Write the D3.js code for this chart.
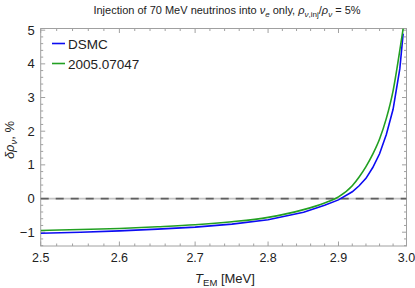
<!DOCTYPE html>
<html lang="en">
  <head>
    <meta charset="UTF-8" />
    <title>Injection of 70 MeV neutrinos</title>
    <script src="https://d3js.org/d3.v7.min.js"></script>
    <style>
      body {
        margin: 0;
        background: white;
      }
      svg text {
        font-family: "Liberation Sans", Arial, sans-serif;
        fill: #222;
      }
      .frame {
        fill: none;
        stroke: #a0a0a0;
        stroke-width: 1;
      }
      .tick {
        stroke: #a0a0a0;
        stroke-width: 1;
      }
    </style>
  </head>
  <body>
    <svg id="chart" width="415" height="288"></svg>
    <script>
      // T_EM values (MeV) sampled along the curves
      const tDsmc = [2.5, 2.55, 2.6, 2.65, 2.7, 2.75, 2.8, 2.85, 2.88, 2.9, 2.92, 2.93, 2.94, 2.95, 2.96, 2.97, 2.98, 2.99, 2.995];
      const dsmcValues = [-1.03, -1.0, -0.96, -0.91, -0.85, -0.76, -0.63, -0.41, -0.2, -0.04, 0.2, 0.38, 0.6, 0.92, 1.33, 1.9, 2.65, 3.85, 4.9];

      const tRef = [2.5, 2.55, 2.6, 2.65, 2.7, 2.75, 2.8, 2.85, 2.88, 2.9, 2.92, 2.93, 2.94, 2.95, 2.96, 2.97, 2.98, 2.99, 2.995];
      const refValues = [-0.95, -0.92, -0.89, -0.84, -0.78, -0.69, -0.56, -0.33, -0.13, 0.05, 0.38, 0.64, 0.95, 1.32, 1.77, 2.38, 3.2, 4.4, 5.05];

      const seriesNames = ["DSMC", "2005.07047"];
      const seriesColors = ["#0c0cf2", "#22a022"];

      const xTickLabels = [2.5, 2.6, 2.7, 2.8, 2.9, 3.0];
      const yTickLabels = [-1, 0, 1, 2, 3, 4, 5];

      (function () {
        const svg = d3.select("#chart");
        const left = 40.7, right = 406.5, top = 28.5, bottom = 246;

        // x axis is logarithmic
        const x = d3.scaleLog().domain([2.5, 3.0]).range([left, right]);
        const y = d3.scaleLinear().domain([-1.41, 5.05]).range([bottom, top]);

        svg.append("clipPath").attr("id", "clip")
          .append("rect").attr("x", left).attr("y", top)
          .attr("width", right - left).attr("height", bottom - top);

        // minor and major ticks on all four sides
        const xMinor = d3.range(2.5, 3.0001, 0.02);
        const yMinor = d3.range(-1.4, 5.0001, 0.2);
        const g = svg.append("g");

        xMinor.forEach((v) => {
          const major = xTickLabels.some((t) => Math.abs(t - v) < 1e-6);
          const len = major ? 4.5 : 2.5;
          g.append("line").attr("class", "tick")
            .attr("x1", x(v)).attr("x2", x(v)).attr("y1", bottom).attr("y2", bottom - len);
          g.append("line").attr("class", "tick")
            .attr("x1", x(v)).attr("x2", x(v)).attr("y1", top).attr("y2", top + len);
        });
        yMinor.forEach((v) => {
          const major = yTickLabels.some((t) => Math.abs(t - v) < 1e-6);
          const len = major ? 4.5 : 2.5;
          g.append("line").attr("class", "tick")
            .attr("x1", left).attr("x2", left + len).attr("y1", y(v)).attr("y2", y(v));
          g.append("line").attr("class", "tick")
            .attr("x1", right).attr("x2", right - len).attr("y1", y(v)).attr("y2", y(v));
        });

        svg.append("rect").attr("class", "frame")
          .attr("x", left).attr("y", top)
          .attr("width", right - left).attr("height", bottom - top);

        // tick labels
        svg.selectAll(".xlab").data(xTickLabels).enter().append("text")
          .attr("x", (d) => x(d)).attr("y", bottom + 16)
          .attr("text-anchor", "middle").attr("font-size", 12.5)
          .text((d) => d.toFixed(1));
        svg.selectAll(".ylab").data(yTickLabels).enter().append("text")
          .attr("x", left - 6).attr("y", (d) => y(d) + 4.5)
          .attr("text-anchor", "end").attr("font-size", 13)
          .text((d) => (d < 0 ? "\u2212" + Math.abs(d) : d));

        // zero reference line
        svg.append("line")
          .attr("x1", left).attr("x2", right).attr("y1", y(0)).attr("y2", y(0))
          .attr("stroke", "#c4c4c4").attr("stroke-width", 1.8);
        svg.append("line")
          .attr("x1", left).attr("x2", right).attr("y1", y(0)).attr("y2", y(0))
          .attr("stroke", "#606060").attr("stroke-width", 1.8)
          .attr("stroke-dasharray", "8,7");

        const line = d3.line().x((d) => x(d[0])).y((d) => y(d[1]));
        const curves = [d3.zip(tDsmc, dsmcValues), d3.zip(tRef, refValues)];
        curves.forEach((pts, i) => {
          svg.append("path")
            .attr("clip-path", "url(#clip)")
            .attr("d", line.curve(i === 0 ? d3.curveLinear : d3.curveMonotoneX)(pts))
            .attr("fill", "none")
            .attr("stroke", seriesColors[i])
            .attr("stroke-width", 1.6);
        });

        // legend
        seriesNames.forEach((name, i) => {
          const ly = 43.5 + i * 20;
          svg.append("line")
            .attr("x1", 52).attr("x2", 65).attr("y1", ly).attr("y2", ly)
            .attr("stroke", seriesColors[i]).attr("stroke-width", 1.6);
          svg.append("text")
            .attr("x", 68).attr("y", ly + 5)
            .attr("font-size", 13.5)
            .text(name);
        });

        // title
        const title = svg.append("text")
          .attr("x", 227).attr("y", 14).attr("text-anchor", "middle")
          .attr("font-size", 11);
        title.append("tspan").text("Injection of 70 MeV neutrinos into ");
        title.append("tspan").attr("font-style", "italic").text("\u03bd");
        title.append("tspan").attr("font-style", "italic").attr("font-size", 8).attr("dy", 2.5).text("e");
        title.append("tspan").attr("dy", -2.5).text(" only, ");
        title.append("tspan").attr("font-style", "italic").text("\u03c1");
        title.append("tspan").attr("font-style", "italic").attr("font-size", 8).attr("dy", 2.5).text("\u03bd");
        title.append("tspan").attr("font-size", 8).text(",inj");
        title.append("tspan").attr("dy", -2.5).text("/");
        title.append("tspan").attr("font-style", "italic").text("\u03c1");
        title.append("tspan").attr("font-style", "italic").attr("font-size", 8).attr("dy", 2.5).text("\u03bd");
        title.append("tspan").attr("dy", -2.5).text(" = 5%");

        // axis labels
        const xl = svg.append("text")
          .attr("x", 225).attr("y", 283).attr("text-anchor", "middle")
          .attr("font-size", 13);
        xl.append("tspan").attr("font-style", "italic").text("T");
        xl.append("tspan").attr("font-size", 9.5).attr("dy", 3).text("EM");
        xl.append("tspan").attr("dy", -3).text(" [MeV]");

        const yl = svg.append("text")
          .attr("transform", "translate(14,140) rotate(-90)")
          .attr("text-anchor", "middle").attr("font-size", 13);
        yl.append("tspan").attr("font-style", "italic").text("\u03b4\u03c1");
        yl.append("tspan").attr("font-style", "italic").attr("font-size", 9.5).attr("dy", 3).text("\u03bd");
        yl.append("tspan").attr("dy", -3).text(", %");
      })();
    </script>
  </body>
</html>
